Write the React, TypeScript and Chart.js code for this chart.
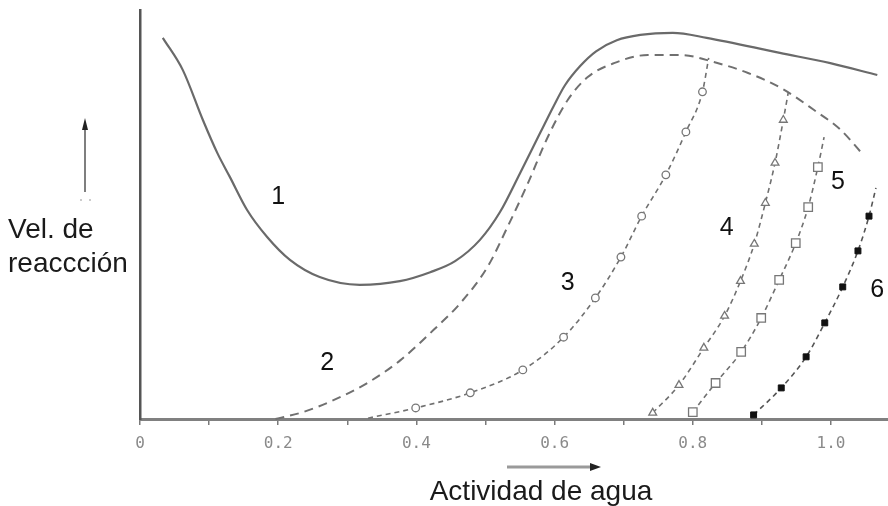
import React, { useEffect, useRef } from 'react';
import { Chart, registerables } from 'chart.js';

Chart.register(...registerables);

// X axis (water activity)
const xTickValues = [0, 0.1, 0.2, 0.3, 0.4, 0.5, 0.6, 0.7, 0.8, 0.9, 1.0];
const xTickLabels = ['0', '', '0.2', '', '0.4', '', '0.6', '', '0.8', '', '1.0'];
const xMin = 0;
const xMax = 1.0825;
const yMin = 0;
const yMax = 100;

// Curve 1 (solid)
const c1x = [0.033, 0.062, 0.091, 0.112, 0.130, 0.155, 0.184, 0.217, 0.260, 0.318, 0.376, 0.420, 0.456, 0.492, 0.521, 0.550, 0.579, 0.598, 0.615, 0.637, 0.660, 0.690, 0.724, 0.771, 0.820, 0.926, 0.999, 1.067];
const c1y = [93.2, 85.3, 73.1, 65.0, 59.2, 51.1, 44.5, 38.9, 34.7, 32.8, 33.7, 35.9, 38.6, 43.8, 50.6, 60.1, 69.9, 76.3, 81.6, 86.3, 89.9, 92.6, 93.9, 94.4, 93.2, 89.5, 87.0, 84.1];

// Curve 2 (long dashes)
const c2x = [0.196, 0.236, 0.280, 0.329, 0.377, 0.425, 0.464, 0.503, 0.532, 0.561, 0.590, 0.619, 0.648, 0.686, 0.735, 0.783, 0.830, 0.880, 0.928, 0.975, 1.014, 1.043];
const c2y = [0, 1.7, 4.6, 8.8, 14.4, 21.8, 28.4, 37.2, 47.0, 57.5, 68.9, 78.0, 83.6, 87.0, 89.0, 89.0, 87.3, 84.6, 80.9, 75.6, 70.7, 65.3];

// Curve 3 (open circles)
const c3x = [0.330, 0.399, 0.478, 0.554, 0.613, 0.659, 0.696, 0.726, 0.761, 0.790, 0.814, 0.823];
const c3y = [0.2, 2.7, 6.4, 12.0, 20.0, 29.6, 39.6, 49.6, 59.7, 70.2, 80.0, 88.3];

// Curve 4 (open triangles)
const c4x = [0.742, 0.780, 0.816, 0.846, 0.869, 0.889, 0.905, 0.919, 0.931, 0.938];
const c4y = [1.5, 8.3, 17.4, 25.2, 33.7, 42.8, 52.8, 62.6, 73.1, 79.7];

// Curve 5 (open squares)
const c5x = [0.800, 0.833, 0.870, 0.899, 0.925, 0.949, 0.967, 0.981, 0.990];
const c5y = [1.7, 8.8, 16.4, 24.7, 34.0, 43.0, 51.8, 61.6, 68.9];

// Curve 6 (filled squares)
const c6x = [0.888, 0.928, 0.964, 0.991, 1.017, 1.039, 1.055, 1.065];
const c6y = [1.0, 7.6, 15.2, 23.5, 32.3, 41.1, 49.6, 56.5];

// Curve number labels (in data units)
const curveLabels = ['1', '2', '3', '4', '5', '6'];
const curveLabelX = [0.200, 0.271, 0.619, 0.849, 1.010, 1.067];
const curveLabelY = [54.3, 13.7, 33.3, 46.7, 57.9, 31.5];

const yTitleLines = ['Vel. de', 'reaccción'];
const xTitle = 'Actividad de agua';

const FONT = '"Liberation Sans", Arial, sans-serif';

const toPoints = (xs: number[], ys: number[]) => xs.map((x, i) => ({ x, y: ys[i] }));

export default function App() {
  const canvasRef = useRef<HTMLCanvasElement | null>(null);

  useEffect(() => {
    const canvas = canvasRef.current;
    if (!canvas) return;

    const annotations = {
      id: 'annotations',
      afterDraw(chart: any) {
        const ctx = chart.ctx;
        const xs = chart.scales.x;
        const ys = chart.scales.y;
        ctx.save();
        // curve numbers
        ctx.fillStyle = '#111';
        ctx.font = `25px ${FONT}`;
        ctx.textAlign = 'center';
        ctx.textBaseline = 'middle';
        curveLabels.forEach((t, i) => {
          ctx.fillText(t, xs.getPixelForValue(curveLabelX[i]), ys.getPixelForValue(curveLabelY[i]));
        });
        // y title
        ctx.font = `28px ${FONT}`;
        ctx.textAlign = 'left';
        ctx.textBaseline = 'alphabetic';
        ctx.fillStyle = '#1a1a1a';
        ctx.fillText(yTitleLines[0], 8, 238);
        ctx.fillText(yTitleLines[1], 8, 272);
        // x title
        ctx.textAlign = 'center';
        ctx.fillText(xTitle, 541, 500);
        // y arrow
        ctx.strokeStyle = '#555';
        ctx.lineWidth = 1.5;
        ctx.beginPath();
        ctx.moveTo(85, 192);
        ctx.lineTo(85, 126);
        ctx.stroke();
        ctx.fillStyle = '#222';
        ctx.beginPath();
        ctx.moveTo(85, 118);
        ctx.lineTo(88, 130);
        ctx.lineTo(82, 130);
        ctx.closePath();
        ctx.fill();
        ctx.fillStyle = '#ccc';
        ctx.fillRect(80, 199, 2, 2);
        ctx.fillRect(89, 199, 2, 2);
        // x arrow
        ctx.strokeStyle = '#9a9a9a';
        ctx.lineWidth = 3;
        ctx.beginPath();
        ctx.moveTo(507, 467);
        ctx.lineTo(592, 467);
        ctx.stroke();
        ctx.fillStyle = '#222';
        ctx.beginPath();
        ctx.moveTo(601, 467);
        ctx.lineTo(590, 463);
        ctx.lineTo(590, 471);
        ctx.closePath();
        ctx.fill();
        ctx.restore();
      },
    };

    const lineGray = '#707070';
    const markerRadius = (r: number, skipFirst: boolean) => (c: any) => {
      const n = c.dataset.data.length;
      if (c.dataIndex === n - 1) return 0;
      if (skipFirst && c.dataIndex === 0) return 0;
      return r;
    };

    const chart = new Chart(canvas, {
      type: 'line',
      data: {
        datasets: [
          {
            label: '1',
            data: toPoints(c1x, c1y),
            borderColor: '#6a6a6a',
            borderWidth: 2.2,
            pointRadius: 0,
            cubicInterpolationMode: 'monotone',
            clip: false,
          },
          {
            label: '2',
            data: toPoints(c2x, c2y),
            borderColor: lineGray,
            borderWidth: 2,
            borderDash: [9, 6],
            pointRadius: 0,
            cubicInterpolationMode: 'monotone',
            clip: false,
          },
          {
            label: '3',
            data: toPoints(c3x, c3y),
            borderColor: lineGray,
            borderWidth: 1.6,
            borderDash: [5, 4],
            pointStyle: 'circle',
            pointRadius: markerRadius(3.8, true),
            pointBackgroundColor: '#fff',
            pointBorderColor: '#777',
            pointBorderWidth: 1.3,
            cubicInterpolationMode: 'monotone',
            clip: false,
          },
          {
            label: '4',
            data: toPoints(c4x, c4y),
            borderColor: lineGray,
            borderWidth: 1.6,
            borderDash: [5, 4],
            pointStyle: 'triangle',
            pointRadius: markerRadius(4.5, false),
            pointBackgroundColor: '#fff',
            pointBorderColor: '#777',
            pointBorderWidth: 1.3,
            cubicInterpolationMode: 'monotone',
            clip: false,
          },
          {
            label: '5',
            data: toPoints(c5x, c5y),
            borderColor: lineGray,
            borderWidth: 1.6,
            borderDash: [5, 4],
            pointStyle: 'rect',
            pointRadius: markerRadius(6, false),
            pointBackgroundColor: '#fff',
            pointBorderColor: '#777',
            pointBorderWidth: 1.3,
            cubicInterpolationMode: 'monotone',
            clip: false,
          },
          {
            label: '6',
            data: toPoints(c6x, c6y),
            borderColor: '#555',
            borderWidth: 1.6,
            borderDash: [5, 4],
            pointStyle: 'rect',
            pointRadius: markerRadius(4.2, false),
            pointBackgroundColor: '#111',
            pointBorderColor: '#111',
            pointBorderWidth: 1,
            cubicInterpolationMode: 'monotone',
            clip: false,
          },
        ],
      },
      options: {
        responsive: false,
        animation: false,
        devicePixelRatio: 1,
        layout: { autoPadding: false, padding: { top: 10, left: 0, right: 0, bottom: 0 } },
        plugins: {
          legend: { display: false },
          tooltip: { enabled: false },
          title: { display: false },
        },
        scales: {
          x: {
            type: 'linear',
            min: xMin,
            max: xMax,
            afterFit: (s: any) => {
              s.height = 87;
            },
            afterBuildTicks: (s: any) => {
              s.ticks = xTickValues.map((v) => ({ value: v }));
            },
            ticks: {
              autoSkip: false,
              maxRotation: 0,
              includeBounds: false,
              padding: 9,
              color: '#8a8a8a',
              font: { family: '"DejaVu Sans Mono", monospace', size: 16 },
              callback: (_v: any, i: number) => xTickLabels[i],
            },
            grid: {
              drawOnChartArea: false,
              drawTicks: true,
              tickLength: 6,
              color: '#7a7a7a',
              lineWidth: 1.5,
            },
            border: { display: true, color: '#808080', width: 3 },
          },
          y: {
            type: 'linear',
            min: yMin,
            max: yMax,
            afterFit: (s: any) => {
              s.width = 140;
            },
            ticks: { display: false },
            grid: { display: false },
            border: { display: true, color: '#555', width: 2.5 },
          },
        },
      },
      plugins: [annotations],
    } as any);

    return () => chart.destroy();
  }, []);

  return (
    <div style={{ position: 'absolute', left: 0, top: 0, width: 888, height: 506, background: '#fff' }}>
      <canvas ref={canvasRef} width={888} height={506} style={{ display: 'block', width: 888, height: 506 }} />
    </div>
  );
}
